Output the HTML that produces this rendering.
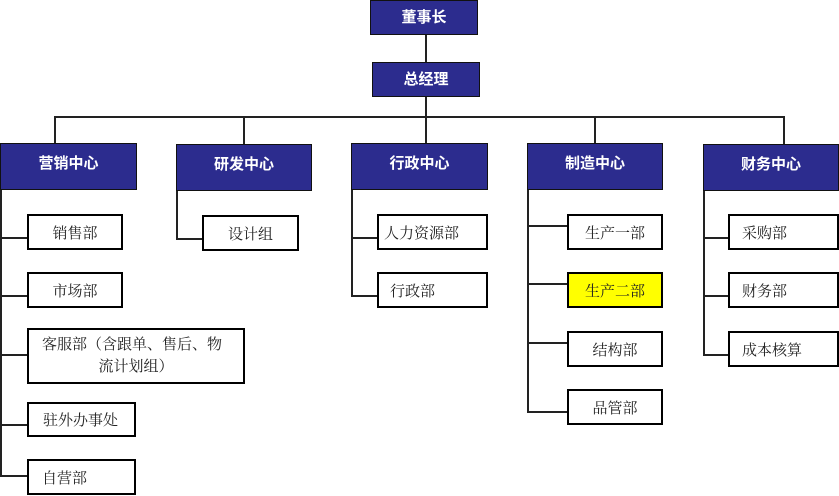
<!DOCTYPE html>
<html><head><meta charset="utf-8"><style>
body{margin:0;width:839px;height:496px;background:#fff;position:relative;overflow:hidden}
.b{position:absolute;box-sizing:border-box;border:2px solid #000;background:#fff;font-family:"Liberation Serif","Noto Serif CJK SC",serif;font-size:15px;color:#222;display:flex;align-items:center}
.h{position:absolute;box-sizing:border-box;background:#2c2c8e;border:1px solid #111;color:#fff;font-family:"Liberation Sans","Noto Sans CJK SC",sans-serif;font-weight:bold;font-size:15px;display:flex;align-items:center;justify-content:center}
.hc{padding-bottom:8px}
.l{position:absolute;background:#222}
.c{justify-content:center}
</style></head><body>
<div class="h" style="left:370px;top:0;width:108px;height:35px;padding-bottom:2px">董事长</div>
<div class="h" style="left:372px;top:62px;width:108px;height:35px;padding-bottom:2px">总经理</div>
<div class="l" style="left:425px;top:35px;width:2px;height:27px"></div>
<div class="l" style="left:425px;top:97px;width:2px;height:46px"></div>
<div class="l" style="left:54px;top:116px;width:731px;height:2px"></div>
<div class="l" style="left:54px;top:116px;width:2px;height:27px"></div>
<div class="l" style="left:243px;top:116px;width:2px;height:28px"></div>
<div class="l" style="left:594px;top:116px;width:2px;height:27px"></div>
<div class="l" style="left:783px;top:116px;width:2px;height:28px"></div>

<div class="h hc" style="left:0;top:143px;width:137px;height:47px">营销中心</div>
<div class="h hc" style="left:176px;top:144px;width:136px;height:47px">研发中心</div>
<div class="h hc" style="left:351px;top:143px;width:137px;height:47px">行政中心</div>
<div class="h hc" style="left:527px;top:143px;width:136px;height:47px">制造中心</div>
<div class="h hc" style="left:703px;top:144px;width:136px;height:47px">财务中心</div>

<div class="l" style="left:0;top:190px;width:2px;height:287px"></div>
<div class="l" style="left:176px;top:191px;width:2px;height:48px"></div>
<div class="l" style="left:351px;top:190px;width:2px;height:107px"></div>
<div class="l" style="left:527px;top:190px;width:2px;height:223px"></div>
<div class="l" style="left:703px;top:191px;width:2px;height:165px"></div>

<div class="l" style="left:0;top:237px;width:28px;height:2px"></div>
<div class="l" style="left:0;top:295px;width:28px;height:2px"></div>
<div class="l" style="left:0;top:354px;width:28px;height:2px"></div>
<div class="l" style="left:0;top:424px;width:28px;height:2px"></div>
<div class="l" style="left:0;top:475px;width:28px;height:2px"></div>
<div class="b c" style="left:27px;top:214px;width:96px;height:36px">销售部</div>
<div class="b c" style="left:27px;top:272px;width:96px;height:36px">市场部</div>
<div class="b" style="left:27px;top:328px;width:218px;height:56px;flex-direction:column;justify-content:center;line-height:22px"><div style="align-self:flex-start;padding-left:13px">客服部（含跟单、售后、物</div><div>流计划组）</div></div>
<div class="b" style="left:27px;top:402px;width:109px;height:35px;padding-left:14px">驻外办事处</div>
<div class="b" style="left:27px;top:459px;width:109px;height:36px;padding-left:13px">自营部</div>

<div class="l" style="left:176px;top:238px;width:27px;height:2px"></div>
<div class="b c" style="left:202px;top:215px;width:97px;height:36px">设计组</div>

<div class="l" style="left:351px;top:237px;width:27px;height:2px"></div>
<div class="l" style="left:351px;top:295px;width:27px;height:2px"></div>
<div class="b" style="left:377px;top:214px;width:111px;height:36px;padding-left:5px">人力资源部</div>
<div class="b" style="left:377px;top:272px;width:111px;height:36px;padding-left:11px">行政部</div>

<div class="l" style="left:527px;top:225px;width:41px;height:2px"></div>
<div class="l" style="left:527px;top:283px;width:41px;height:2px"></div>
<div class="l" style="left:527px;top:342px;width:41px;height:2px"></div>
<div class="l" style="left:527px;top:411px;width:41px;height:2px"></div>
<div class="b c" style="left:567px;top:214px;width:96px;height:36px">生产一部</div>
<div class="b c" style="left:567px;top:272px;width:96px;height:36px;background:#ffff00">生产二部</div>
<div class="b c" style="left:567px;top:331px;width:96px;height:36px">结构部</div>
<div class="b c" style="left:567px;top:389px;width:96px;height:36px">品管部</div>

<div class="l" style="left:703px;top:237px;width:26px;height:2px"></div>
<div class="l" style="left:703px;top:295px;width:26px;height:2px"></div>
<div class="l" style="left:703px;top:354px;width:26px;height:2px"></div>
<div class="b" style="left:728px;top:214px;width:111px;height:36px;padding-left:12px">采购部</div>
<div class="b" style="left:728px;top:272px;width:111px;height:36px;padding-left:12px">财务部</div>
<div class="b" style="left:728px;top:331px;width:111px;height:36px;padding-left:12px">成本核算</div>
</body></html>
